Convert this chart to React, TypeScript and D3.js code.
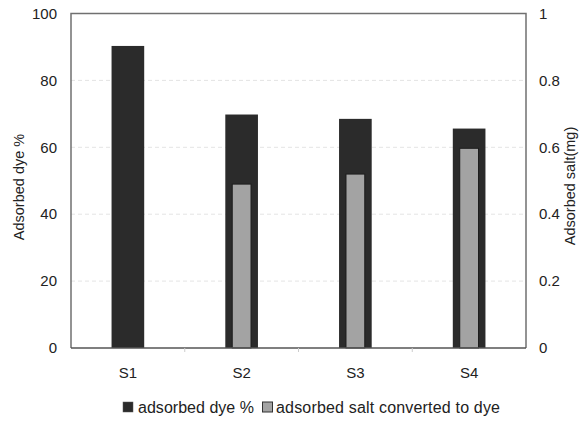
import React from "react";
import * as d3 from "d3";

const categories = ["S1", "S2", "S3", "S4"];
const dyePercent = [90.3, 69.8, 68.5, 65.6];
const saltMg: (number | null)[] = [null, 0.49, 0.52, 0.597];
const leftTicks = [0, 20, 40, 60, 80, 100];
const rightTicks = [0, 0.2, 0.4, 0.6, 0.8, 1];
const seriesNames = ["adsorbed dye %", "adsorbed salt converted to dye"];

const W = 587;
const H = 422;
const M = { left: 71, right: 61, top: 13.5, bottom: 74 };
const FONT = "'Liberation Sans', Arial, Helvetica, sans-serif";

export default function App() {
  const x = d3
    .scaleBand<string>()
    .domain(categories)
    .range([M.left, W - M.right])
    .paddingInner(0)
    .paddingOuter(0);
  const yL = d3.scaleLinear().domain([0, 100]).range([H - M.bottom, M.top]);
  const yR = d3.scaleLinear().domain([0, 1]).range([H - M.bottom, M.top]);
  const bw = x.bandwidth();
  const darkW = bw * 0.287;
  const lightW = bw * 0.165;
  const x0 = M.left;
  const x1 = W - M.right;
  const y0 = H - M.bottom;
  const y1 = M.top;

  return (
    <svg width={W} height={H} style={{ position: "absolute", left: 0, top: 0, fontFamily: FONT }}>
      <rect x={0} y={0} width={W} height={H} fill="#fff" />
      {leftTicks
        .filter((t) => t > 0 && t < 100)
        .map((t) => (
          <line key={t} x1={x0} x2={x1} y1={yL(t)} y2={yL(t)} stroke="#e4e4e4" strokeWidth={1} strokeDasharray="4,3" />
        ))}
      {categories.map((c, i) => {
        const cx = (x(c) as number) + bw / 2;
        const s = saltMg[i];
        return (
          <g key={c}>
            <rect x={cx - darkW / 2} y={yL(dyePercent[i])} width={darkW} height={y0 - yL(dyePercent[i])} fill="#2b2b2b" />
            {s != null && (
              <rect
                x={cx - lightW / 2}
                y={yR(s)}
                width={lightW}
                height={y0 - yR(s)}
                fill="#a3a3a3"
                stroke="#1e1e1e"
                strokeWidth={1}
              />
            )}
          </g>
        );
      })}
      <path d={`M${x0},${y0}V${y1}H${x1}V${y0}`} fill="none" stroke="#707070" strokeWidth={1.5} />
      <line x1={x0} x2={x1} y1={y0} y2={y0} stroke="#555" strokeWidth={1.5} />
      {categories.slice(1).map((c) => (
        <line key={c} x1={x(c)} x2={x(c)} y1={y0} y2={y0 + 4} stroke="#ccc" strokeWidth={1} />
      ))}
      {leftTicks.map((t) => (
        <text key={t} x={57} y={yL(t)} dy="0.35em" textAnchor="end" fontSize={15} fill="#222">
          {t}
        </text>
      ))}
      {rightTicks.map((t) => (
        <text key={t} x={539} y={yR(t)} dy="0.35em" textAnchor="start" fontSize={15} fill="#222">
          {t}
        </text>
      ))}
      {categories.map((c) => (
        <text key={c} x={(x(c) as number) + bw / 2} y={378} textAnchor="middle" fontSize={15} fill="#222">
          {c}
        </text>
      ))}
      <text transform={`translate(24,187) rotate(-90)`} textAnchor="middle" fontSize={14.5} fill="#222">
        Adsorbed dye %
      </text>
      <text transform={`translate(575,186) rotate(-90)`} textAnchor="middle" fontSize={14.5} fill="#222">
        Adsorbed salt(mg)
      </text>
      <g fontSize={16} fill="#222">
        <rect x={123} y={402} width={10} height={10} fill="#2b2b2b" stroke="#555" strokeWidth={0.5} />
        <text x={138} y={413} textLength={116} lengthAdjust="spacing">{seriesNames[0]}</text>
        <rect x={262.5} y={402} width={10} height={10} fill="#a3a3a3" stroke="#333" strokeWidth={1} />
        <text x={276} y={413} textLength={224} lengthAdjust="spacing">{seriesNames[1]}</text>
      </g>
    </svg>
  );
}
